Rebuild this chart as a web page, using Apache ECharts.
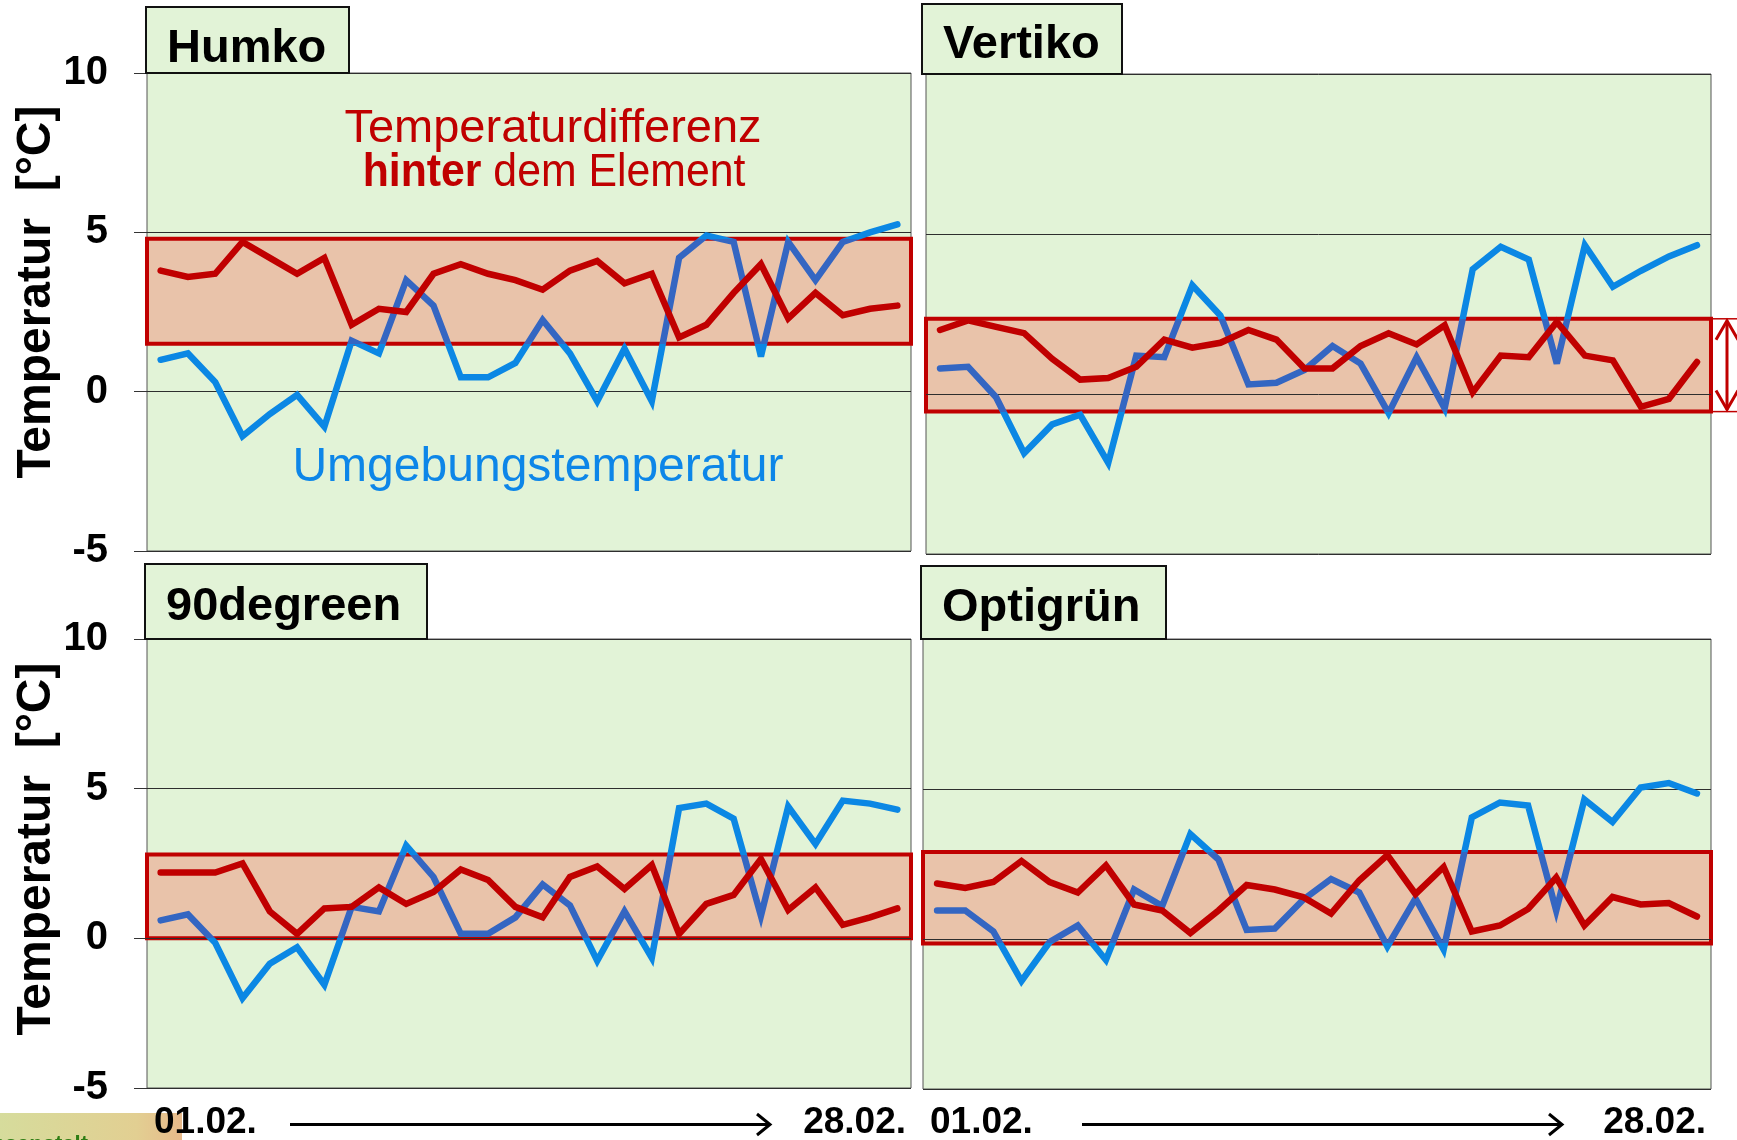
<!DOCTYPE html>
<html>
<head>
<meta charset="utf-8">
<title>Temperatur</title>
<script src="https://cdn.jsdelivr.net/npm/echarts@6/dist/echarts.min.js"></script>
<style>
    html, body { margin: 0; padding: 0; background: #fff; }
    #chart { width: 1737px; height: 1140px; }
</style>
</head>
<body>
<div id="chart"></div>
<script>
(function () {
    'use strict';

    var days = ['01.02.', '02.02.', '03.02.', '04.02.', '05.02.', '06.02.', '07.02.', '08.02.', '09.02.', '10.02.',
        '11.02.', '12.02.', '13.02.', '14.02.', '15.02.', '16.02.', '17.02.', '18.02.', '19.02.', '20.02.',
        '21.02.', '22.02.', '23.02.', '24.02.', '25.02.', '26.02.', '27.02.', '28.02.'];
    var panelNames = ['Humko', 'Vertiko', '90degreen', 'Optigrün'];

    // Umgebungstemperatur (blau)
    var humkoUmgebung = [1.0, 1.2, 0.3, -1.4, -0.7, -0.1, -1.1, 1.6, 1.2, 3.5, 2.7, 0.45, 0.45, 0.9, 2.25, 1.2, -0.3, 1.35, -0.3, 4.2, 4.9, 4.7, 1.1, 4.7, 3.5, 4.7, 5.0, 5.25];
    var vertikoUmgebung = [0.8, 0.85, -0.1, -1.85, -0.95, -0.65, -2.15, 1.2, 1.15, 3.4, 2.45, 0.3, 0.35, 0.75, 1.5, 0.95, -0.6, 1.15, -0.45, 3.9, 4.6, 4.2, 0.95, 4.65, 3.35, 3.85, 4.3, 4.65];
    var degreenUmgebung = [0.6, 0.8, -0.15, -2.0, -0.85, -0.3, -1.55, 1.05, 0.9, 3.1, 2.05, 0.15, 0.15, 0.7, 1.8, 1.1, -0.75, 0.9, -0.65, 4.35, 4.5, 4.0, 0.75, 4.4, 3.15, 4.6, 4.5, 4.3];
    var optigruenUmgebung = [0.95, 0.95, 0.25, -1.4, -0.1, 0.45, -0.7, 1.65, 1.1, 3.5, 2.65, 0.3, 0.35, 1.3, 2.0, 1.55, -0.25, 1.35, -0.35, 4.05, 4.55, 4.45, 0.95, 4.65, 3.9, 5.05, 5.2, 4.85];

    // Temperaturdifferenz hinter dem Element (rot)
    var humkoDifferenz = [3.8, 3.6, 3.7, 4.7, 4.2, 3.7, 4.2, 2.1, 2.6, 2.5, 3.7, 4.0, 3.7, 3.5, 3.2, 3.8, 4.1, 3.4, 3.7, 1.7, 2.1, 3.1, 4.0, 2.3, 3.1, 2.4, 2.6, 2.7];
    var vertikoDifferenz = [2.0, 2.3, 2.1, 1.9, 1.1, 0.45, 0.5, 0.85, 1.7, 1.45, 1.6, 2.0, 1.7, 0.8, 0.8, 1.5, 1.9, 1.55, 2.15, 0.05, 1.2, 1.15, 2.25, 1.2, 1.05, -0.4, -0.15, 1.0];
    var degreenDifferenz = [2.2, 2.2, 2.2, 2.5, 0.9, 0.15, 1.0, 1.05, 1.7, 1.15, 1.55, 2.3, 1.95, 1.05, 0.7, 2.05, 2.4, 1.65, 2.45, 0.15, 1.15, 1.45, 2.65, 0.95, 1.7, 0.45, 0.7, 1.0];
    var optigruenDifferenz = [1.85, 1.7, 1.9, 2.6, 1.9, 1.55, 2.45, 1.15, 0.95, 0.2, 0.95, 1.8, 1.65, 1.4, 0.85, 1.95, 2.8, 1.5, 2.4, 0.25, 0.45, 1.0, 2.05, 0.45, 1.4, 1.15, 1.2, 0.75];

    // Streubereich der Differenz (unten, oben)
    var bandRanges = [[1.5, 4.8], [-0.55, 2.35], [0.0, 2.8], [-0.15, 2.9]];

    var umgebung = [humkoUmgebung, vertikoUmgebung, degreenUmgebung, optigruenUmgebung];
    var differenz = [humkoDifferenz, vertikoDifferenz, degreenDifferenz, optigruenDifferenz];

    var FONT = '"Liberation Sans", Arial, sans-serif';
    var RED = '#c00000';
    var BLUE = '#0b87e4';
    var BLUE_DARK = '#3466c2';
    var PLOT_BG = '#e2f3d7';
    var BAND_BG = '#e9c3aa';

    var grids = [
        {left: 147, top: 73, width: 764, height: 478},
        {left: 926, top: 74, width: 785, height: 480},
        {left: 147, top: 639, width: 764, height: 449},
        {left: 923, top: 639, width: 788, height: 450}
    ];
    var titleBoxes = [
        {x: 146, y: 7, w: 203, h: 66, ty: 49},
        {x: 922, y: 4, w: 200, h: 70, ty: 45},
        {x: 145, y: 564, w: 282, h: 75, ty: 607},
        {x: 921, y: 566, w: 245, h: 73, ty: 608}
    ];

    var option = {
        animation: false,
        backgroundColor: '#fff',
        grid: [],
        xAxis: [],
        yAxis: [],
        series: [],
        visualMap: []
    };

    grids.forEach(function (g, i) {
        var leftCol = (i % 2 === 0);
        option.grid.push({
            left: g.left, top: g.top, width: g.width, height: g.height,
            show: true, backgroundColor: PLOT_BG, borderColor: '#555', borderWidth: 1
        });
        option.xAxis.push({
            type: 'category', gridIndex: i, data: days, boundaryGap: true,
            axisLine: {show: false}, axisTick: {show: false}, axisLabel: {show: false}, splitLine: {show: false}
        });
        option.yAxis.push({
            type: 'value', gridIndex: i, min: -5, max: 10, interval: 5, z: 2,
            axisLine: {show: false},
            axisTick: {show: leftCol, length: 13, lineStyle: {color: '#333', width: 1}},
            axisLabel: {show: leftCol, margin: 39, fontSize: 40, fontWeight: 'bold', color: '#000', fontFamily: FONT},
            splitLine: {show: true, lineStyle: {color: '#2e2e2e', width: 1}}
        });
        // Band
        option.series.push({
            type: 'line', xAxisIndex: i, yAxisIndex: i, z: 1, silent: true, data: [],
            markArea: {
                silent: true,
                itemStyle: {color: BAND_BG, borderColor: RED, borderWidth: 4},
                data: [[{yAxis: bandRanges[i][0]}, {yAxis: bandRanges[i][1]}]]
            }
        });
        // Farbe kommt aus der visualMap (dunkler im Band)
        option.series.push({
            name: 'Umgebungstemperatur', type: 'line', xAxisIndex: i, yAxisIndex: i, z: 3,
            data: umgebung[i], showSymbol: false, silent: true,
            lineStyle: {width: 6.5, join: 'miter', miterLimit: 4, cap: 'round'}
        });
        option.series.push({
            name: 'Temperaturdifferenz', type: 'line', xAxisIndex: i, yAxisIndex: i, z: 4,
            data: differenz[i], showSymbol: false, silent: true,
            itemStyle: {color: RED},
            lineStyle: {width: 6.5, color: RED, join: 'miter', miterLimit: 4, cap: 'round'}
        });
        option.visualMap.push({
            type: 'piecewise', show: false, seriesIndex: 3 * i + 1,
            pieces: [
                {lt: bandRanges[i][0], color: BLUE},
                {gte: bandRanges[i][0], lte: bandRanges[i][1], color: BLUE_DARK},
                {gt: bandRanges[i][1], color: BLUE}
            ]
        });
    });

    var chart = echarts.init(document.getElementById('chart'));
    chart.setOption(option);

    var graphics = [];

    titleBoxes.forEach(function (b, i) {
        graphics.push({
            type: 'rect', z: 10,
            shape: {x: b.x, y: b.y, width: b.w, height: b.h},
            style: {fill: PLOT_BG, stroke: '#111', lineWidth: 2}
        });
        graphics.push({
            type: 'text', z: 11, x: b.x + 21, y: b.ty,
            style: {text: panelNames[i], fontSize: 47, fontWeight: 'bold', fontFamily: FONT, fill: '#000',
                align: 'left', verticalAlign: 'middle'}
        });
    });

    // y-Achsentitel
    [292, 849].forEach(function (cy) {
        graphics.push({
            type: 'text', z: 10, x: 37, y: cy, rotation: Math.PI / 2,
            style: {text: 'Temperatur  [°C]', fontSize: 48, fontWeight: 'bold', fontFamily: FONT, fill: '#000',
                align: 'center', verticalAlign: 'middle'}
        });
    });

    // Beschriftung im Humko-Feld
    graphics.push({
        type: 'text', z: 10, x: 553, y: 129,
        style: {text: 'Temperaturdifferenz', fontSize: 47, fontFamily: FONT, fill: RED, align: 'center', verticalAlign: 'middle'}
    });
    graphics.push({
        type: 'text', z: 10, x: 554, y: 173, scaleX: 0.91,
        style: {
            text: '{b|hinter} dem Element', fontSize: 47, fontFamily: FONT, fill: RED, align: 'center', verticalAlign: 'middle',
            rich: {b: {fontSize: 47, fontWeight: 'bold', fontFamily: FONT, fill: RED}}
        }
    });
    graphics.push({
        type: 'text', z: 10, x: 538, y: 467, scaleX: 0.98,
        style: {text: 'Umgebungstemperatur', fontSize: 49, fontFamily: FONT, fill: '#0d86e8', align: 'center', verticalAlign: 'middle'}
    });

    // Zeitachse unten
    [{l: 154, r: 906, a0: 290, a1: 770}, {l: 930, r: 1706, a0: 1082, a1: 1562}].forEach(function (t) {
        graphics.push({
            type: 'text', z: 10, x: t.l, y: 1123,
            style: {text: '01.02.', fontSize: 37, fontWeight: 'bold', fontFamily: FONT, fill: '#000', align: 'left', verticalAlign: 'middle'}
        });
        graphics.push({
            type: 'text', z: 10, x: t.r, y: 1123,
            style: {text: '28.02.', fontSize: 37, fontWeight: 'bold', fontFamily: FONT, fill: '#000', align: 'right', verticalAlign: 'middle'}
        });
        graphics.push({
            type: 'line', z: 10,
            shape: {x1: t.a0, y1: 1124.5, x2: t.a1, y2: 1124.5},
            style: {stroke: '#000', lineWidth: 3}
        });
        graphics.push({
            type: 'polyline', z: 10,
            shape: {points: [[t.a1 - 13, 1114], [t.a1, 1124.5], [t.a1 - 13, 1135]]},
            style: {stroke: '#000', lineWidth: 3, fill: null}
        });
    });

    // Doppelpfeil rechts am Vertiko-Band
    var yTop = chart.convertToPixel({yAxisIndex: 1}, bandRanges[1][1]);
    var yBot = chart.convertToPixel({yAxisIndex: 1}, bandRanges[1][0]);
    var xr = grids[1].left + grids[1].width;
    var ax = xr + 16;
    graphics.push({type: 'line', z: 10, shape: {x1: xr, y1: yTop, x2: 1737, y2: yTop}, style: {stroke: RED, lineWidth: 1.5}});
    graphics.push({type: 'line', z: 10, shape: {x1: xr, y1: yBot, x2: 1737, y2: yBot}, style: {stroke: RED, lineWidth: 1.5}});
    graphics.push({type: 'line', z: 10, shape: {x1: ax, y1: yTop + 2, x2: ax, y2: yBot - 2}, style: {stroke: RED, lineWidth: 3}});
    graphics.push({type: 'polyline', z: 10, shape: {points: [[ax - 11, yTop + 21], [ax, yTop + 2], [ax + 11, yTop + 21]]}, style: {stroke: RED, lineWidth: 3, fill: null}});
    graphics.push({type: 'polyline', z: 10, shape: {points: [[ax - 11, yBot - 21], [ax, yBot - 2], [ax + 11, yBot - 21]]}, style: {stroke: RED, lineWidth: 3, fill: null}});

    // Logo-Rest links unten
    graphics.push({
        type: 'rect', z: 5,
        shape: {x: 0, y: 1113, width: 182, height: 27},
        style: {
            fill: new echarts.graphic.LinearGradient(0, 0, 1, 0, [
                {offset: 0, color: '#d6dc9c'},
                {offset: 0.75, color: '#e2cf92'},
                {offset: 1, color: '#e7b98a'}
            ])
        }
    });
    graphics.push({
        type: 'text', z: 6, x: 88, y: 1134,
        style: {text: 'Versuchsanstalt', fontSize: 22, fontWeight: 'bold', fontFamily: FONT, fill: '#2f7d14', align: 'right', verticalAlign: 'top'}
    });

    chart.setOption({graphic: graphics});
})();
</script>
</body>
</html>
